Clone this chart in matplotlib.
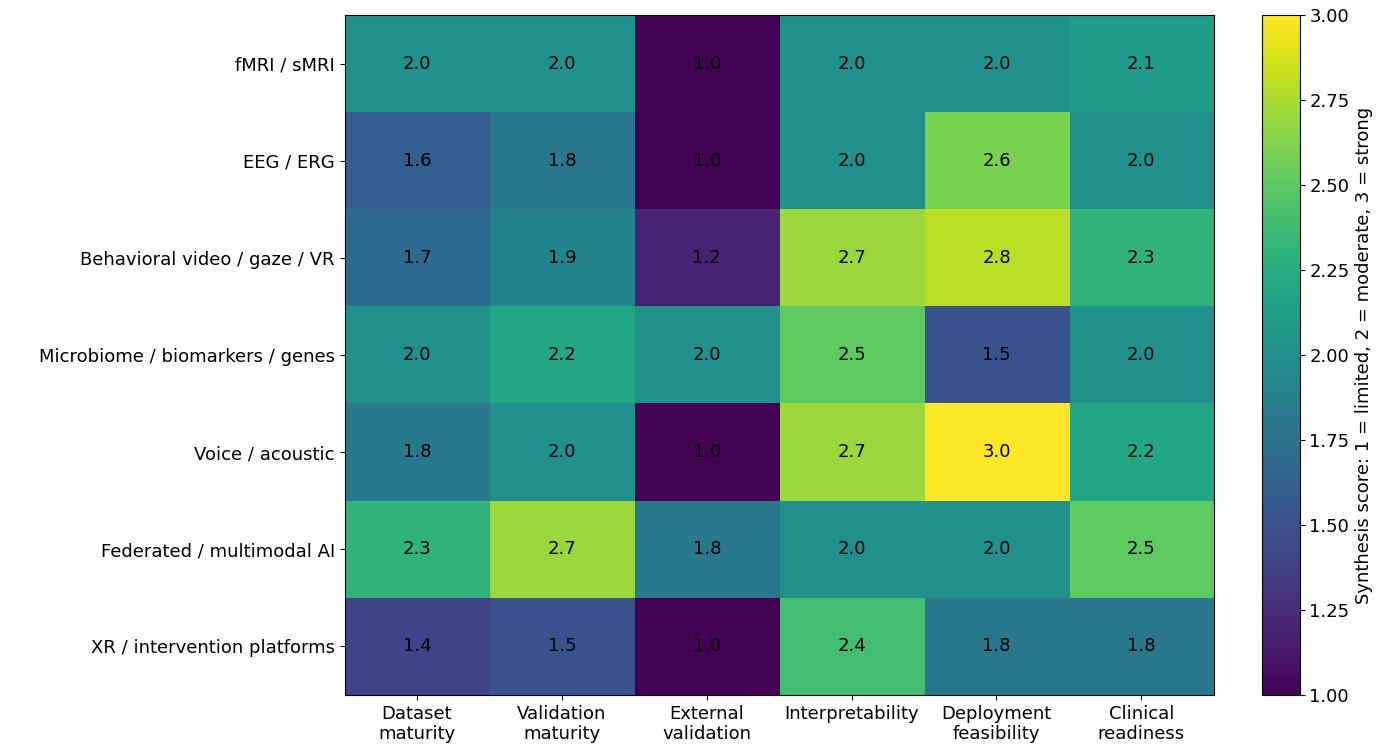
import matplotlib
matplotlib.use("Agg")
import matplotlib.pyplot as plt
import numpy as np

# Rows, columns and scores.
rows = ["fMRI / sMRI", "EEG / ERG", "Behavioral video / gaze / VR",
        "Microbiome / biomarkers / genes", "Voice / acoustic",
        "Federated / multimodal AI", "XR / intervention platforms"]
cols = ["Dataset\nmaturity", "Validation\nmaturity", "External\nvalidation",
        "Interpretability", "Deployment\nfeasibility", "Clinical\nreadiness"]
scores = np.array([
    [2.0, 2.0, 1.0, 2.0, 2.0, 2.1],
    [1.6, 1.8, 1.0, 2.0, 2.6, 2.0],
    [1.7, 1.9, 1.2, 2.7, 2.8, 2.3],
    [2.0, 2.2, 2.0, 2.5, 1.5, 2.0],
    [1.8, 2.0, 1.0, 2.7, 3.0, 2.2],
    [2.3, 2.7, 1.8, 2.0, 2.0, 2.5],
    [1.4, 1.5, 1.0, 2.4, 1.8, 1.8],
])

fs = 13

fig = plt.figure(figsize=(13.84, 7.52), dpi=100)
ax = fig.add_axes([0.249, 0.076, 0.628, 0.904])
cax = fig.add_axes([0.912, 0.076, 0.027, 0.904])

im = ax.imshow(scores, cmap="viridis", vmin=1, vmax=3, aspect="auto")
ax.set_xticks(range(len(cols)))
ax.set_xticklabels(cols, fontsize=fs)
ax.set_yticks(range(len(rows)))
ax.set_yticklabels(rows, fontsize=fs)

for i in range(len(rows)):
    for j in range(len(cols)):
        ax.text(j, i, "{:.1f}".format(scores[i, j]), ha="center", va="center",
                fontsize=fs, color="black")

cb = fig.colorbar(im, cax=cax)
cb.set_label("Synthesis score: 1 = limited, 2 = moderate, 3 = strong", fontsize=fs)
cb.ax.tick_params(labelsize=fs)
cb.set_ticks(np.arange(1.0, 3.01, 0.25))
cb.ax.set_yticklabels(["{:.2f}".format(t) for t in np.arange(1.0, 3.01, 0.25)])

fig.savefig("out.png")
